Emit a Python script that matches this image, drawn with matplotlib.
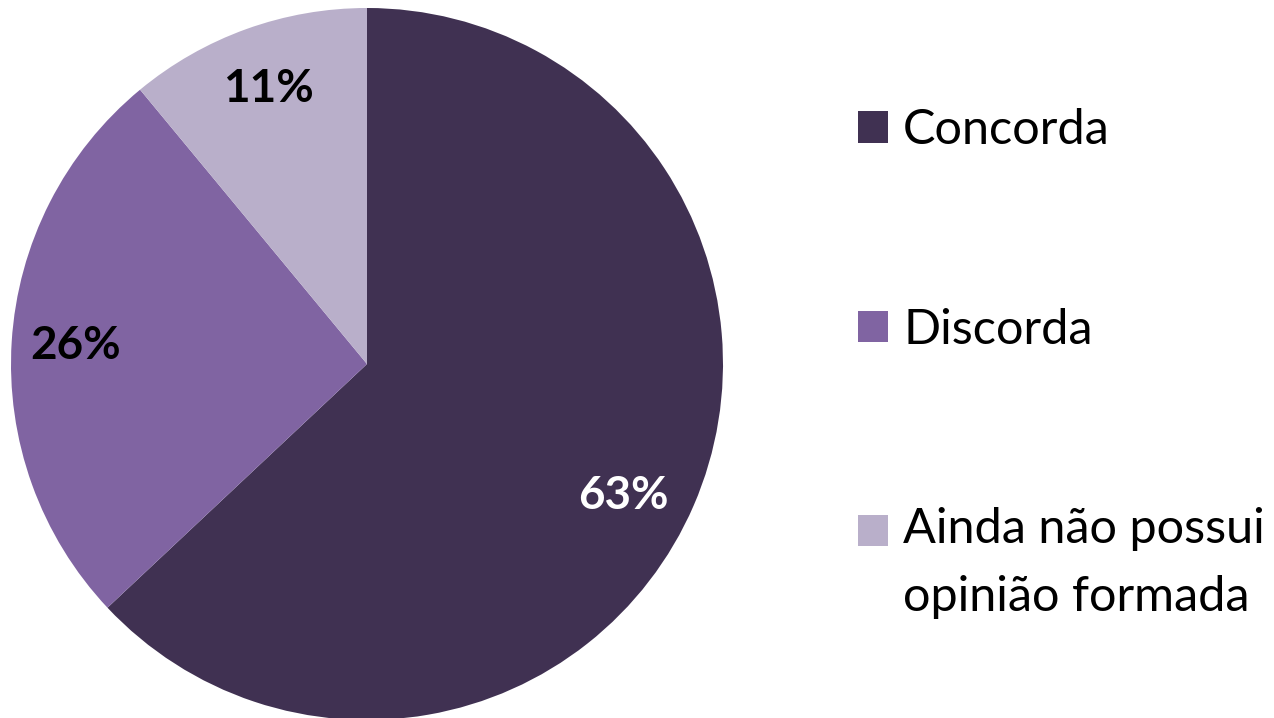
import matplotlib.pyplot as plt
from matplotlib.patches import Patch

categorias = ['Concorda', 'Discorda', 'Ainda não possui\nopinião formada']
valores = [63, 26, 11]
cores = ['#403152', '#8064A2', '#B9AFCA']
cor_rotulo = ['white', 'black', 'black']

plt.rcParams['font.family'] = ['Lato', 'DejaVu Sans']

fig = plt.figure(figsize=(12.74, 7.18), dpi=100)
W, H = 1274, 718
cx, cy, r = 367, 364, 356
ax = fig.add_axes([(cx - r) / W, (H - cy - r) / H, 2 * r / W, 2 * r / H])

wedges, textos, autotextos = ax.pie(valores, colors=cores, startangle=90, counterclock=False,
                                    autopct='%1.0f%%', pctdistance=0.82, radius=1,
                                    wedgeprops=dict(linewidth=0))
for t, c in zip(autotextos, cor_rotulo):
    t.set_color(c)
    t.set_fontsize(33)
    t.set_fontweight('bold')
# rotulo da fatia grande um pouco mais abaixo, como no original
autotextos[0].set_position((0.72, -0.37))
ax.set_xlim(-1, 1)
ax.set_ylim(-1, 1)
ax.set_aspect('equal')
ax.axis('off')

handles = [Patch(facecolor=c, edgecolor='none') for c in cores]
leg = fig.legend(handles, categorias, loc='upper left', bbox_to_anchor=(858 / W, 1 - 108 / H),
                 frameon=False, fontsize=35, borderpad=0, borderaxespad=0,
                 handlelength=0.62, handleheight=0.62,
                 handletextpad=0.31, labelspacing=3.2)
for t in leg.get_texts():
    t.set_linespacing(1.65)
# quadradinho da ultima entrada alinhado com a primeira linha do texto
ultimo = leg.legend_handles[2]
ultimo.set_y(ultimo.get_y() + 24)

fig.savefig('out.png', dpi=100)
